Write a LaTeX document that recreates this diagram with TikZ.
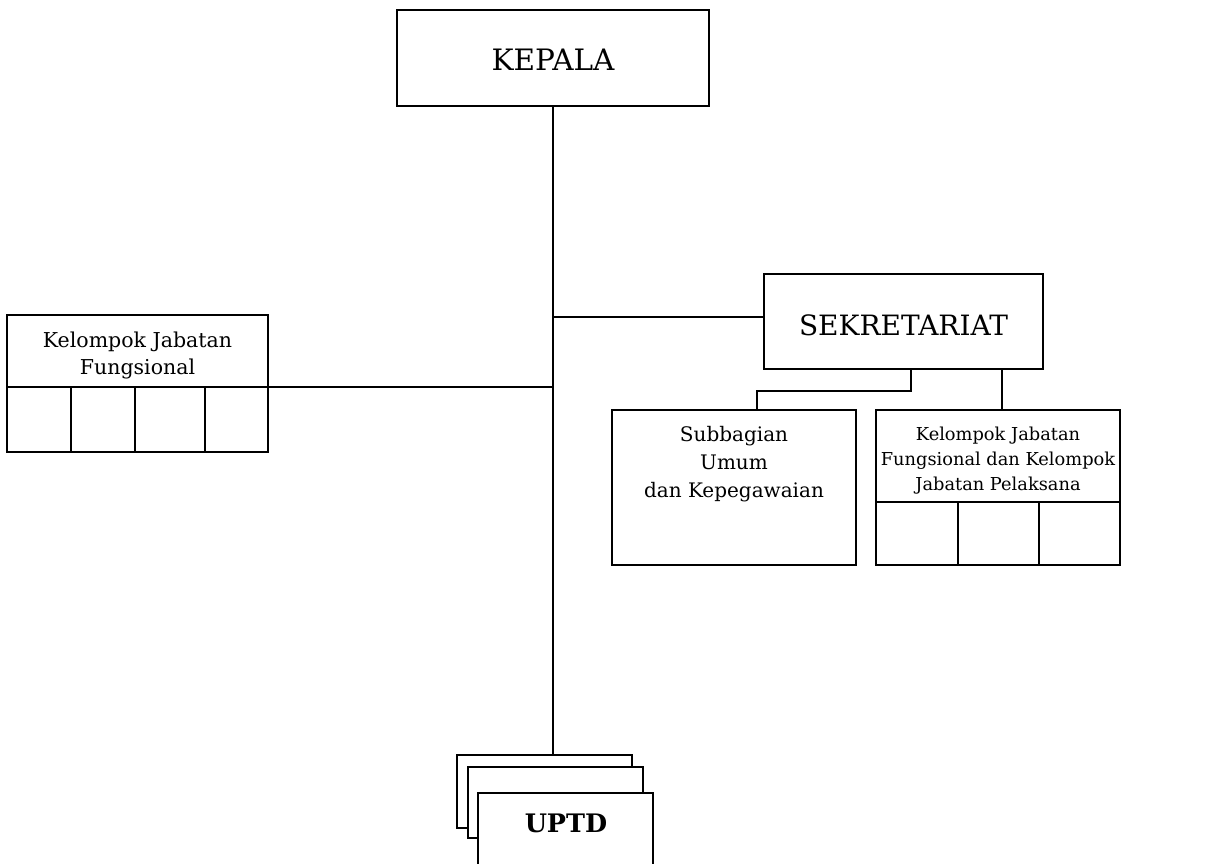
\documentclass[tikz,border=0pt]{standalone}
\usepackage{fontspec}
\setmainfont{DejaVu Serif}
\begin{document}
\begin{tikzpicture}[x=1pt,y=-1pt,
  box/.style={draw,line width=1.6pt,inner sep=0pt,anchor=center,fill=white},
  conn/.style={line width=1.6pt},
  big/.style={font=\fontsize{29.5}{34}\selectfont},
  small/.style={font=\fontsize{17.8}{25}\selectfont,align=center},
  smallb/.style={font=\fontsize{20.5}{27}\selectfont,align=center},
  mid/.style={font=\fontsize{20}{28}\selectfont,align=center}]
\useasboundingbox (0,0) rectangle (1213,864);
\clip (0,0) rectangle (1213,864);
% boxes
\node[box,minimum width=312pt,minimum height=96pt] (kepala) at (553,58) {};
\node[big] (kepalat) at (553,60) {KEPALA};
\node[box,minimum width=279pt,minimum height=95pt] (sek) at (903.5,321.5) {};
\node[font=\fontsize{28}{34}\selectfont] (sekt) at (903.5,325) {SEKRETARIAT};
\node[box,minimum width=261pt,minimum height=137pt] (kjf) at (137.5,383.5) {};
\node[smallb] (kjft) at (137.5,355) {Kelompok Jabatan\\Fungsional};
\draw[conn] (7,387) -- (268,387) (71,387) -- (71,452) (135,387) -- (135,452) (205,387) -- (205,452);
\node[box,minimum width=244pt,minimum height=155pt] (sub) at (734,487.5) {};
\node[mid] (subt) at (734,464) {Subbagian\\Umum\\dan Kepegawaian};
\node[box,minimum width=244pt,minimum height=155pt] (kjfp) at (998,487.5) {};
\node[small] (kjfpt) at (998,460.5) {Kelompok Jabatan\\Fungsional dan Kelompok\\Jabatan Pelaksana};
\draw[conn] (876,502) -- (1120,502) (958,502) -- (958,565) (1039,502) -- (1039,565);
\node[box,minimum width=175pt,minimum height=73pt] (u1) at (544.5,791.5) {};
\node[box,minimum width=175pt,minimum height=71pt] (u2) at (555.5,802.5) {};
\node[box,minimum width=175pt,minimum height=87pt] (u3) at (565.5,836.5) {};
\node[font=\fontsize{25.5}{30}\selectfont\bfseries] (u3t) at (566,823) {UPTD};
% connectors
\coordinate (j1) at (553,317);
\coordinate (j2) at (553,387);
\draw[conn] (kepala.south) -- (kepala.south |- u1.north);
\draw[conn] (j1) -- (j1 -| sek.west);
\draw[conn] (j2 -| kjf.east) -- (j2);
\coordinate (s1) at (911,391);
\draw[conn] (sek.south -| s1) -- (s1) -- (s1 -| 757,0) -- (sub.north -| 757,0);
\draw[conn] (sek.south -| 1002,0) -- (kjfp.north -| 1002,0);
\end{tikzpicture}
\end{document}
